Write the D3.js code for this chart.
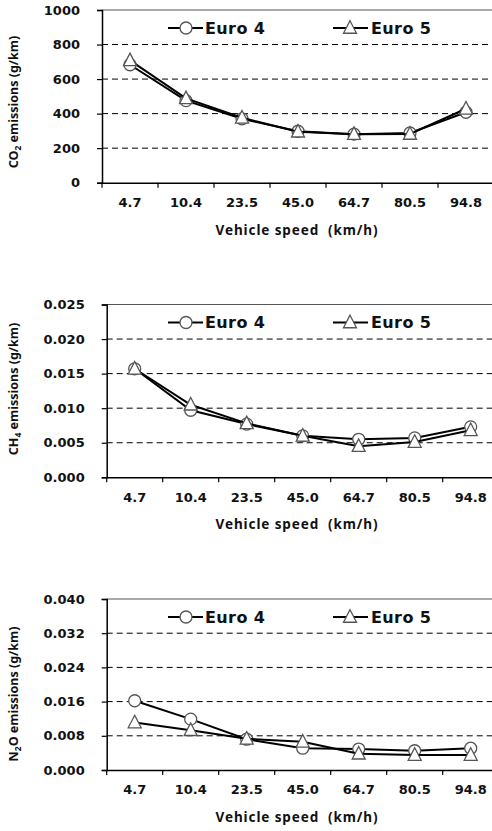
<!DOCTYPE html>
<html><head><meta charset="utf-8">
<script src="https://cdn.jsdelivr.net/npm/d3@7"></script>
<style>body{margin:0;background:#fff}svg{display:block}</style>
</head><body>
<svg id="c" width="492" height="831"></svg>
<script>
const categories = ["4.7","10.4","23.5","45.0","64.7","80.5","94.8"];
const seriesNames = ["Euro 4","Euro 5"];
const co2Euro4 = [683, 475, 370, 298, 281, 288, 408];
const co2Euro5 = [708, 488, 376, 295, 281, 282, 428];
const ch4Euro4 = [0.0157, 0.0097, 0.0077, 0.0060, 0.0055, 0.0057, 0.0073];
const ch4Euro5 = [0.0157, 0.0105, 0.0078, 0.0060, 0.0045, 0.0051, 0.0068];
const n2oEuro4 = [0.0162, 0.0119, 0.0072, 0.0051, 0.0049, 0.0045, 0.0051];
const n2oEuro5 = [0.0111, 0.0093, 0.0073, 0.0066, 0.0038, 0.0035, 0.0035];
const co2Ticks = [0, 200, 400, 600, 800, 1000];
const ch4Ticks = [0, 0.005, 0.010, 0.015, 0.020, 0.025];
const n2oTicks = [0, 0.008, 0.016, 0.024, 0.032, 0.040];
const xTitle = "Vehicle speed  (km/h)";

const svg = d3.select("#c");
const tickFont = "'DejaVu Sans', Verdana, sans-serif";
const titleFont = "'Noto Sans', 'Open Sans', sans-serif";

const panels = [
  {left:102, top:10, bottom:182.7, max:1000, ticks:co2Ticks, fmt:d3.format("d"),
   e4:co2Euro4, e5:co2Euro5, ylab:["CO","2","\u00A0emissions (g/km)"], ylabY:102, ylabX:18},
  {left:106.7, top:304.5, bottom:477.3, max:0.025, ticks:ch4Ticks, fmt:d3.format(".3f"),
   e4:ch4Euro4, e5:ch4Euro5, ylab:["CH","4","\u00A0emissions (g/km)"], ylabY:389, ylabX:18},
  {left:106.7, top:599, bottom:770, max:0.040, ticks:n2oTicks, fmt:d3.format(".3f"),
   e4:n2oEuro4, e5:n2oEuro5, ylab:["N","2","O emissions (g/km)"], ylabY:694, ylabX:18}
];

function triPath(cx, cy, s){
  const h = s*0.9;
  return `M${cx},${cy-h*0.62}L${cx+s/2},${cy+h*0.45}L${cx-s/2},${cy+h*0.45}Z`;
}

panels.forEach(p => {
  const right = p.left + 7*56;
  const x = d3.scaleBand().domain(categories).range([p.left, right]);
  const y = d3.scaleLinear().domain([0, p.max]).range([p.bottom, p.top]);
  const g = svg.append("g");

  g.selectAll("line.grid").data(p.ticks.filter(t => t > 0 && t < p.max)).join("line")
    .attr("x1", p.left).attr("x2", right)
    .attr("y1", d => y(d)).attr("y2", d => y(d))
    .attr("stroke", "#000").attr("stroke-width", 1).attr("stroke-dasharray", "6,4");
  g.append("line").attr("x1", p.left).attr("x2", right).attr("y1", y(p.max)).attr("y2", y(p.max))
    .attr("stroke", "#555").attr("stroke-width", 1.2);

  const ya = g.append("g").attr("transform", `translate(${p.left},0)`)
    .call(d3.axisLeft(y).tickValues(p.ticks).tickFormat(p.fmt).tickSize(5).tickPadding(17));
  ya.select(".domain").attr("stroke", "#000").attr("stroke-width", 1.5);
  ya.selectAll(".tick line").attr("stroke", "#000").attr("stroke-width", 1.2);
  ya.selectAll("text").attr("font-family", tickFont).attr("font-weight", "bold")
    .attr("font-size", 13).attr("fill", "#111");

  const xa = g.append("g").attr("transform", `translate(0,${p.bottom})`)
    .call(d3.axisBottom(x).tickSize(0).tickPadding(15));
  xa.select(".domain").attr("stroke", "#000").attr("stroke-width", 1.5);
  xa.selectAll("text").attr("font-family", tickFont).attr("font-weight", "bold")
    .attr("font-size", 13).attr("fill", "#111");
  xa.selectAll("line.bt").data(categories).join("line")
    .attr("x1", d => x(d)).attr("x2", d => x(d)).attr("y1", 0).attr("y2", 5)
    .attr("stroke", "#000").attr("stroke-width", 1.2);

  g.append("text").attr("x", 297).attr("y", p.bottom + 52)
    .attr("text-anchor", "middle").attr("font-family", titleFont).attr("font-weight", "bold")
    .attr("font-size", 13.5).attr("letter-spacing", 0.9).attr("fill", "#111")
    .style("white-space", "pre").text(xTitle);

  const yt = g.append("text").attr("transform", `translate(${p.ylabX},${p.ylabY}) rotate(-90)`)
    .attr("text-anchor", "middle").attr("font-family", titleFont).attr("font-weight", "bold")
    .attr("font-size", 12.5).attr("fill", "#111");
  yt.append("tspan").text(p.ylab[0]);
  yt.append("tspan").attr("font-size", 8.5).attr("dy", 3).text(p.ylab[1]);
  yt.append("tspan").attr("dy", -3).text(p.ylab[2]);

  const cx = d => x(d) + x.bandwidth()/2;
  const line = d3.line().x(d => cx(d.c)).y(d => y(d.v));
  const d4 = categories.map((c, i) => ({c, v: p.e4[i]}));
  const d5 = categories.map((c, i) => ({c, v: p.e5[i]}));

  g.append("path").datum(d4).attr("d", line).attr("fill", "none").attr("stroke", "#000").attr("stroke-width", 2);
  g.selectAll("circle.e4").data(d4).join("circle")
    .attr("cx", d => cx(d.c)).attr("cy", d => y(d.v)).attr("r", 6)
    .attr("fill", "#fff").attr("stroke", "#555").attr("stroke-width", 1.3);
  g.append("path").datum(d5).attr("d", line).attr("fill", "none").attr("stroke", "#000").attr("stroke-width", 2);
  g.selectAll("path.e5").data(d5).join("path")
    .attr("d", d => triPath(cx(d.c), y(d.v), 13))
    .attr("fill", "#fff").attr("stroke", "#555").attr("stroke-width", 1.3);

  const ly = p.top + 18;
  const lg = g.append("g");
  lg.append("line").attr("x1", 168).attr("x2", 203).attr("y1", ly).attr("y2", ly).attr("stroke", "#000").attr("stroke-width", 2);
  lg.append("circle").attr("cx", 186).attr("cy", ly).attr("r", 6).attr("fill", "#fff").attr("stroke", "#555").attr("stroke-width", 1.3);
  lg.append("text").attr("x", 205).attr("y", ly + 5.5).attr("font-family", tickFont).attr("font-weight", "bold")
    .attr("font-size", 16).attr("letter-spacing", 0.4).attr("fill", "#111").text(seriesNames[0]);
  lg.append("line").attr("x1", 333).attr("x2", 368).attr("y1", ly).attr("y2", ly).attr("stroke", "#000").attr("stroke-width", 2);
  lg.append("path").attr("d", triPath(350, ly, 13)).attr("fill", "#fff").attr("stroke", "#555").attr("stroke-width", 1.3);
  lg.append("text").attr("x", 371).attr("y", ly + 5.5).attr("font-family", tickFont).attr("font-weight", "bold")
    .attr("font-size", 16).attr("letter-spacing", 0.4).attr("fill", "#111").text(seriesNames[1]);
});
</script>
</body></html>
